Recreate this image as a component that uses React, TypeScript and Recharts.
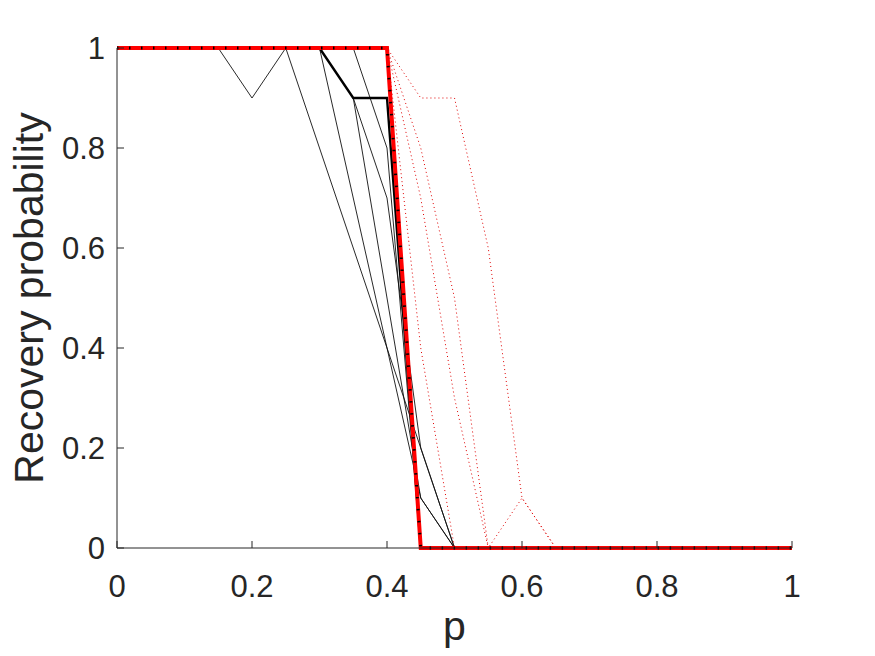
import {Line, LineChart, XAxis, YAxis} from "recharts";

// p grid
const pValues = [0, 0.05, 0.1, 0.15, 0.2, 0.25, 0.3, 0.35, 0.4, 0.45, 0.5, 0.55, 0.6, 0.65, 0.7, 0.75, 0.8, 0.85, 0.9, 0.95, 1];

// thin black solid curves
const thinA = [1, 1, 1, 1, 0.9, 1, 0.8, 0.6, 0.4, 0.2, 0, 0, 0, 0, 0, 0, 0, 0, 0, 0, 0];
const thinB = [1, 1, 1, 1, 1, 1, 1, 0.7, 0.4, 0.1, 0, 0, 0, 0, 0, 0, 0, 0, 0, 0, 0];
const thinC = [1, 1, 1, 1, 1, 1, 1, 1, 0.8, 0, 0, 0, 0, 0, 0, 0, 0, 0, 0, 0, 0];
const thinD = [1, 1, 1, 1, 1, 1, 1, 0.9, 0.7, 0.2, 0, 0, 0, 0, 0, 0, 0, 0, 0, 0, 0];
const thinE = [1, 1, 1, 1, 1, 1, 1, 0.9, 0.5, 0.1, 0, 0, 0, 0, 0, 0, 0, 0, 0, 0, 0];
// thick black solid
const thickBlack = [1, 1, 1, 1, 1, 1, 1, 0.9, 0.9, 0, 0, 0, 0, 0, 0, 0, 0, 0, 0, 0, 0];
// red dotted curves
const dotted1 = [1, 1, 1, 1, 1, 1, 1, 1, 1, 0.9, 0.9, 0.6, 0.1, 0, 0, 0, 0, 0, 0, 0, 0];
const dotted2 = [1, 1, 1, 1, 1, 1, 1, 1, 1, 0.8, 0.5, 0, 0.1, 0, 0, 0, 0, 0, 0, 0, 0];
const dotted3 = [1, 1, 1, 1, 1, 1, 1, 1, 1, 0.4, 0, 0, 0, 0, 0, 0, 0, 0, 0, 0, 0];
const dotted4 = [1, 1, 1, 1, 1, 1, 1, 1, 1, 0.7, 0.3, 0, 0, 0, 0, 0, 0, 0, 0, 0, 0];
// red threshold step
const threshold = [1, 1, 1, 1, 1, 1, 1, 1, 1, 0, 0, 0, 0, 0, 0, 0, 0, 0, 0, 0, 0];

const xTicks = [0, 0.2, 0.4, 0.6, 0.8, 1];
const yTicks = [0, 0.2, 0.4, 0.6, 0.8, 1];

const data = pValues.map((p, i) => ({
    p,
    thinA: thinA[i],
    thinB: thinB[i],
    thinC: thinC[i],
    thinD: thinD[i],
    thinE: thinE[i],
    thickBlack: thickBlack[i],
    dotted1: dotted1[i],
    dotted2: dotted2[i],
    dotted3: dotted3[i],
    dotted4: dotted4[i],
    threshold: threshold[i]
}));

const AXIS = "#262626";
const FONT = "'Liberation Sans', Arial, sans-serif";

const XTick = ({x, y, payload}: any) => (
    <g>
        <line x1={x} y1={y} x2={x} y2={y - 7} stroke={AXIS} strokeWidth={1}/>
        <text x={x} y={y + 49} textAnchor="middle" fill={AXIS} fontSize={31} fontFamily={FONT}>
            {String(payload.value)}
        </text>
    </g>
);

const YTick = ({x, y, payload}: any) => (
    <g>
        <line x1={x} y1={y} x2={x + 7} y2={y} stroke={AXIS} strokeWidth={1}/>
        <text x={x - 12} y={y + 11} textAnchor="end" fill={AXIS} fontSize={31} fontFamily={FONT}>
            {String(payload.value)}
        </text>
    </g>
);

const XTitle = ({viewBox}: any) => (
    <text x={viewBox.x + viewBox.width / 2} y={viewBox.y + 92} textAnchor="middle" fill={AXIS}
          fontSize={41} fontFamily={FONT}>p</text>
);

const YTitle = ({viewBox}: any) => {
    const cx = 43;
    const cy = viewBox.y + viewBox.height / 2;
    return (
        <text x={cx} y={cy} textAnchor="middle" fill={AXIS} fontSize={41} fontFamily={FONT}
              transform={`rotate(-90 ${cx} ${cy})`}>Recovery probability</text>
    );
};

const thinKeys = ["thinA", "thinB", "thinC", "thinD", "thinE"];
const dottedKeys = ["dotted1", "dotted2", "dotted3", "dotted4"];

const App = () => {
    return (
        <div style={{position: "absolute", left: 0, top: 0, background: "#fff"}}>
            <LineChart width={875} height={656} data={data} margin={{top: 48, right: 83, left: 0, bottom: 0}}>
                <XAxis
                    dataKey="p"
                    type="number"
                    domain={[0, 1]}
                    ticks={xTicks}
                    height={108}
                    tickSize={0}
                    tickMargin={0}
                    tickLine={false}
                    stroke={AXIS}
                    tick={<XTick/>}
                    label={XTitle}
                    interval={0}
                />
                <YAxis
                    type="number"
                    domain={[0, 1]}
                    ticks={yTicks}
                    width={117}
                    tickSize={0}
                    tickMargin={0}
                    tickLine={false}
                    stroke={AXIS}
                    tick={<YTick/>}
                    label={YTitle}
                    interval={0}
                />
                {thinKeys.map((k) => (
                    <Line key={k} type="linear" dataKey={k} stroke="#111" strokeWidth={0.9} dot={false}
                          isAnimationActive={false}/>
                ))}
                {dottedKeys.map((k) => (
                    <Line key={k} type="linear" dataKey={k} stroke="#e00000" strokeWidth={1}
                          strokeDasharray="1 3" dot={false} isAnimationActive={false}/>
                ))}
                <Line type="linear" dataKey="thickBlack" stroke="#000" strokeWidth={2.4} dot={false}
                      isAnimationActive={false}/>
                <Line type="linear" dataKey="threshold" stroke="#ff0000" strokeWidth={4} dot={false}
                      isAnimationActive={false}/>
                <Line type="linear" dataKey="threshold" stroke="#000" strokeWidth={3} strokeDasharray="1.5 10.5"
                      dot={false} isAnimationActive={false}/>
            </LineChart>
        </div>
    );
};

export default App;
